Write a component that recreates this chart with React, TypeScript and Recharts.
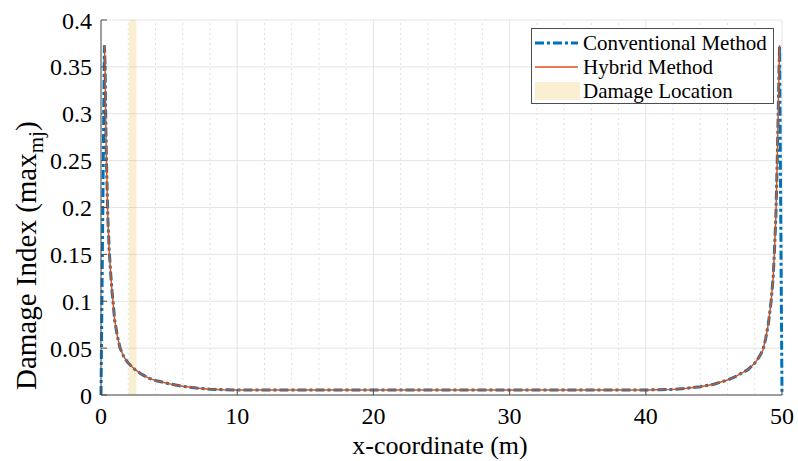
import React from 'react';
import { LineChart, Line, XAxis, YAxis, CartesianGrid, ReferenceArea, ReferenceLine, Legend } from 'recharts';

const xCoords = [0, 0.25, 0.3, 0.35, 0.4, 0.5, 0.6, 0.7, 0.8, 0.9, 1.0, 1.2, 1.4, 1.7, 2.0, 2.5, 3.0, 3.5, 4.0, 5.0, 6.0, 7.0, 8.0, 9.0, 10, 15, 20, 25, 30, 35, 40, 41, 42, 43, 44, 45, 46, 46.5, 47, 47.5, 48, 48.3, 48.6, 48.8, 49.0, 49.2, 49.35, 49.45, 49.55, 49.65, 49.72, 49.78, 49.82, 50];

const conventional = [0, 0.373, 0.35, 0.29, 0.25, 0.19, 0.155, 0.132, 0.112, 0.097, 0.08, 0.063, 0.05, 0.04, 0.034, 0.027, 0.022, 0.018, 0.0155, 0.012, 0.0093, 0.0074, 0.0062, 0.0056, 0.0054, 0.0053, 0.0053, 0.0053, 0.0053, 0.0053, 0.0054, 0.0056, 0.006, 0.0072, 0.0089, 0.0115, 0.016, 0.019, 0.023, 0.027, 0.034, 0.04, 0.048, 0.06, 0.076, 0.1, 0.125, 0.155, 0.19, 0.25, 0.3, 0.345, 0.373, 0];

const hybrid = [null, 0.373, 0.35, 0.29, 0.25, 0.19, 0.155, 0.132, 0.112, 0.097, 0.08, 0.063, 0.05, 0.04, 0.034, 0.027, 0.022, 0.018, 0.0155, 0.012, 0.0093, 0.0074, 0.0062, 0.0056, 0.0054, 0.0053, 0.0053, 0.0053, 0.0053, 0.0053, 0.0054, 0.0056, 0.006, 0.0072, 0.0089, 0.0115, 0.016, 0.019, 0.023, 0.027, 0.034, 0.04, 0.048, 0.06, 0.076, 0.1, 0.125, 0.155, 0.19, 0.25, 0.3, 0.345, 0.373, null];

const damageLocation = [2.05, 2.6];

const xTicks = [0, 10, 20, 30, 40, 50];
const xMinorTicks = [2, 4, 6, 8, 12, 14, 16, 18, 22, 24, 26, 28, 32, 34, 36, 38, 42, 44, 46, 48];
const yTicks = [0, 0.05, 0.1, 0.15, 0.2, 0.25, 0.3, 0.35, 0.4];

const legendLabels = ['Conventional Method', 'Hybrid Method', 'Damage Location'];

const BLUE = '#0072BD';
const RED = '#D95319';
const FONT = '"Liberation Serif", "Times New Roman", serif';
const AXIS = '#4d4d4d';

const data = xCoords.map((x, i) => ({ x, conv: conventional[i], hyb: hybrid[i] }));

const fmtY = (v: number) => (v === 0 ? '0' : String(v));

const LegendBox = () => (
  <div
    style={{
      position: 'relative',
      width: 243,
      height: 76,
      border: `1px solid ${AXIS}`,
      background: '#fff',
      boxSizing: 'border-box',
      fontFamily: FONT,
      fontSize: 21,
      color: '#000',
    }}
  >
    {legendLabels.map((lab, i) => (
      <div key={lab} style={{ position: 'absolute', left: 0, top: 2 + i * 24, height: 24, width: 243, display: 'flex', alignItems: 'center' }}>
        <svg width={50} height={24} style={{ flex: 'none' }}>
          {i === 0 && <line x1={3} x2={46} y1={12} y2={12} stroke={BLUE} strokeWidth={3} strokeDasharray="9 3 3 3" />}
          {i === 1 && <line x1={3} x2={46} y1={12} y2={12} stroke={RED} strokeWidth={1.5} />}
          {i === 2 && <rect x={3} y={3} width={45} height={18} fill="#EDB120" fillOpacity={0.2} />}
        </svg>
        <span style={{ marginLeft: 1, lineHeight: '24px', whiteSpace: 'nowrap' }}>{lab}</span>
      </div>
    ))}
  </div>
);

const YLabel = () => (
  <text x={36} y={390} transform="rotate(-90, 36, 390)" textAnchor="start" fontFamily={FONT} fontSize={29} fill="#000">
    <tspan>Damage Index (max</tspan>
    <tspan dy={7} fontSize={21}>mj</tspan>
    <tspan dy={-7}>)</tspan>
  </text>
);

export default function App() {
  return (
    <div style={{ position: 'absolute', left: 0, top: 0, width: 798, height: 461, background: '#fff' }}>
      <LineChart width={798} height={461} data={data} margin={{ top: 20, right: 16, bottom: 0, left: 0 }}>
        <CartesianGrid stroke="#e4e4e4" strokeWidth={1} />
        {xMinorTicks.map((t) => (
          <ReferenceLine key={t} x={t} stroke="#e0e0e0" strokeDasharray="2 3" strokeWidth={1} />
        ))}
        <ReferenceArea x1={damageLocation[0]} x2={damageLocation[1]} fill="#EDB120" fillOpacity={0.2} stroke="none" ifOverflow="visible" />
        <XAxis
          dataKey="x"
          type="number"
          domain={[0, 50]}
          ticks={xTicks}
          height={66}
          stroke={AXIS}
          tickSize={-6}
          tickMargin={18}
          tick={{ fill: '#000', fontFamily: FONT, fontSize: 24 }}
          label={{
            content: () => (
              <text x={440} y={454} textAnchor="middle" fontFamily={FONT} fontSize={26} fill="#000">
                x-coordinate (m)
              </text>
            ),
          }}
        />
        <XAxis
          xAxisId="top"
          orientation="top"
          dataKey="x"
          type="number"
          domain={[0, 50]}
          ticks={xTicks}
          height={0}
          stroke={AXIS}
          tickSize={-6}
          tick={false}
        />
        <YAxis
          type="number"
          domain={[0, 0.4]}
          ticks={yTicks}
          width={101}
          stroke={AXIS}
          tickSize={-6}
          tickMargin={15}
          tickFormatter={fmtY}
          tick={{ fill: '#000', fontFamily: FONT, fontSize: 24 }}
          label={{ content: () => <YLabel /> }}
        />
        <YAxis
          yAxisId="right"
          orientation="right"
          type="number"
          domain={[0, 0.4]}
          ticks={yTicks}
          width={0}
          stroke={AXIS}
          tickSize={-6}
          tick={false}
        />
        <Line type="linear" dataKey="conv" stroke={BLUE} strokeWidth={3} strokeDasharray="9 3 3 3" dot={false} isAnimationActive={false} />
        <Line type="linear" dataKey="hyb" stroke={RED} strokeWidth={1.5} dot={false} isAnimationActive={false} />
        <Legend
          layout="vertical"
          align="center"
          verticalAlign="middle"
          wrapperStyle={{ position: 'absolute', left: 531, top: 28, width: 243, height: 76 }}
          content={() => <LegendBox />}
        />
      </LineChart>
    </div>
  );
}
